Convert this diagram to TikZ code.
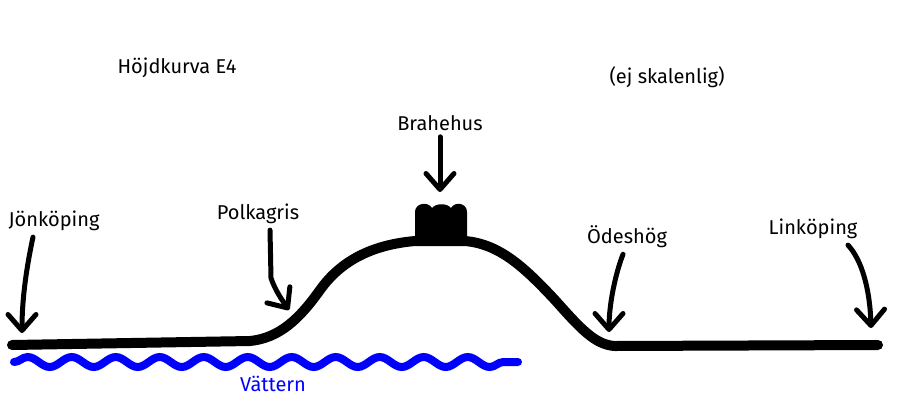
\documentclass[tikz,border=0pt]{standalone}
\usepackage{fontspec}
\setmainfont{Fira Sans}
\usetikzlibrary{arrows.meta,decorations.pathmorphing}
\begin{document}
\begin{tikzpicture}[x=1pt,y=-1pt,
  lbl/.style={font=\fontsize{20}{24}\selectfont, inner sep=0pt, anchor=center},
  road/.style={line width=10pt, line cap=round, line join=round},
  arr/.style={line width=5pt, line cap=round,
    -{Straight Barb[length=16pt,width=28pt,line width=5pt,round]}},
  water/.style={draw=blue, line width=8pt, line cap=round,
    decorate, decoration={snake, segment length=44pt, amplitude=5pt}}]
\fill[white] (0,0) rectangle (900,400);
\useasboundingbox (0,0) rectangle (900,400);

% texts
\node[lbl] (title) at (177,68) {Höjdkurva E4};
\node[lbl] (note) at (667,77) {(ej skalenlig)};
\node[lbl] (bra) at (440,123) {Brahehus};
\node[lbl] (jon) at (54,221) {Jönköping};
\node[lbl] (pol) at (258,214) {Polkagris};
\node[lbl] (ode) at (627,237) {Ödeshög};
\node[lbl] (lin) at (813,229) {Linköping};
\node[lbl, text=blue] (vat) at (273,384) {Vättern};

% road / height profile
\draw[road] (12,345) -- (250,341)
  .. controls (280,338) and (300,318) .. (320,290)
  .. controls (340,262) and (370,245) .. (415,241)
  -- (465,241)
  .. controls (500,244) and (525,268) .. (555,300)
  .. controls (580,328) and (595,345) .. (615,346)
  -- (878,345);

% castle
\fill (415,242) -- (415,212)
  .. controls (415,203) and (428,201) .. (432,208)
  .. controls (436,203) and (447,203) .. (451,208)
  .. controls (455,201) and (467,203) .. (467,212)
  -- (467,242) -- cycle;

% water
\draw[water] (14,362) -- (518,362);

% arrow end points
\coordinate (jonT) at (22,333);
\coordinate (polT) at (289,310);
\coordinate (braT) at (440,192);
\coordinate (odeT) at (609,332);
\coordinate (linT) at (871,328);

\draw[arr] ([yshift=-6pt]jon.south) ++(-21,0) .. controls (26,270) and (22,300) .. (jonT);
\draw[arr] ([yshift=-6pt]pol.south) ++(12,0) -- (271,278) .. controls (275,290) and (282,300) .. (polT);
\draw[arr] ([yshift=-6pt]bra.south) -- (braT);
\draw[arr] ([yshift=-6pt]ode.south) ++(-4,0) .. controls (615,275) and (609,305) .. (odeT);
\draw[arr] ([yshift=-6pt]lin.south) ++(35,0) .. controls (862,260) and (870,290) .. (linT);
\end{tikzpicture}
\end{document}
